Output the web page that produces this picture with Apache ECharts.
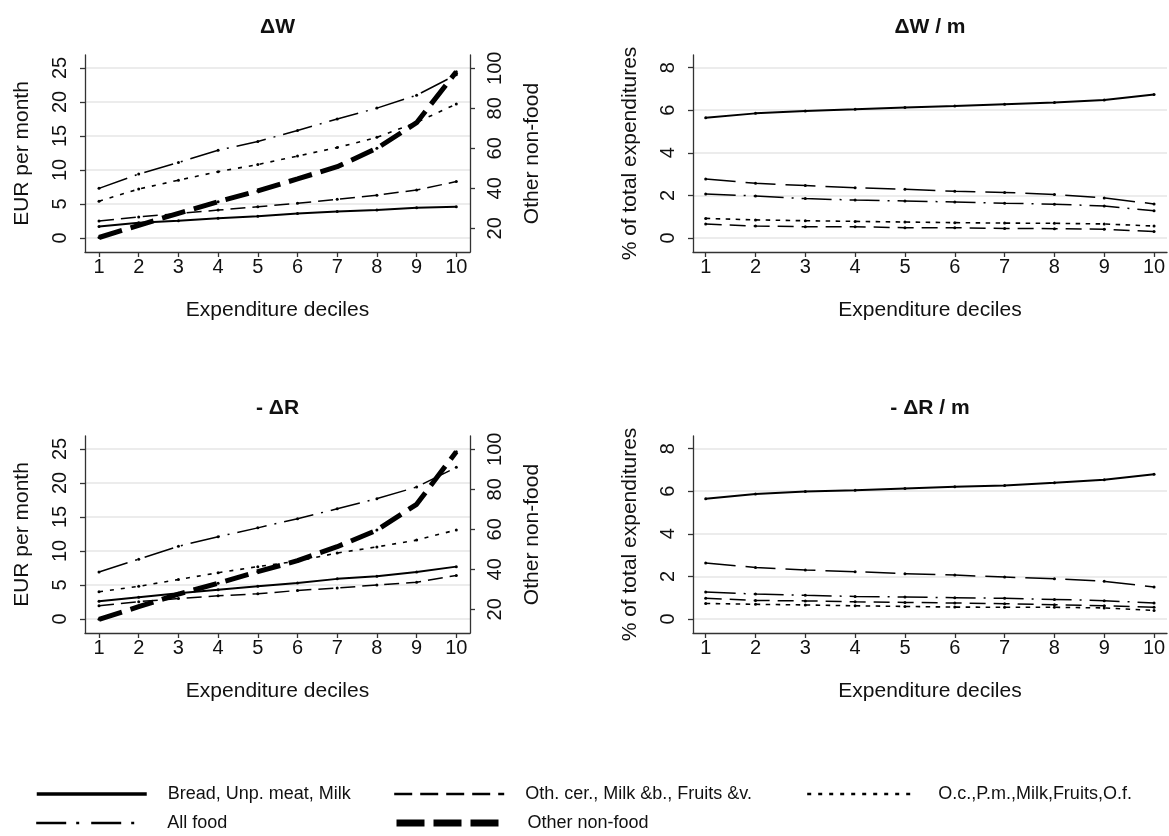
<!DOCTYPE html>
<html>
<head>
<meta charset="UTF-8">
<title>Welfare effects by expenditure decile</title>
<script src="https://cdn.jsdelivr.net/npm/echarts@6/dist/echarts.min.js"></script>
<style>
  html, body { margin: 0; padding: 0; background: #fff; }
  #chart { width: 1169px; height: 836px; }
</style>
</head>
<body>
<div id="chart"></div>
<script>
// deciles on the x axis
var deciles = [1, 2, 3, 4, 5, 6, 7, 8, 9, 10];
var eurTicks = [0, 5, 10, 15, 20, 25];
var nonFoodTicks = [20, 40, 60, 80, 100];
var shareTicks = [0, 2, 4, 6, 8];

// dW, EUR per month (non-food on the right axis)
var dwBread    = [1.7, 2.25, 2.55, 2.9, 3.2, 3.6, 3.9, 4.1, 4.45, 4.6];
var dwOthCer   = [2.5, 3.1, 3.6, 4.1, 4.6, 5.1, 5.7, 6.3, 7.05, 8.3];
var dwOc       = [5.4, 7.2, 8.5, 9.75, 10.8, 12.05, 13.3, 14.8, 17.0, 19.7];
var dwAllFood  = [7.3, 9.4, 11.1, 12.9, 14.2, 15.8, 17.5, 19.1, 21.0, 24.0];
var dwNonFood  = [15.4, 21.5, 27.5, 33.3, 38.7, 44.7, 50.8, 60.0, 72.8, 98.3];

// -dR, EUR per month
var drBread    = [2.6, 3.2, 3.8, 4.3, 4.8, 5.3, 5.9, 6.3, 6.9, 7.7];
var drOthCer   = [1.95, 2.55, 3.0, 3.4, 3.7, 4.2, 4.55, 5.0, 5.4, 6.4];
var drOc       = [4.0, 4.8, 5.8, 6.8, 7.7, 8.5, 9.7, 10.6, 11.6, 13.1];
var drAllFood  = [6.9, 8.8, 10.7, 12.1, 13.4, 14.75, 16.2, 17.7, 19.4, 22.3];
var drNonFood  = [15.0, 21.3, 27.6, 33.0, 38.8, 44.3, 51.3, 59.6, 72.5, 98.8];

// dW / m, % of total expenditures
var dwmNonFood = [5.65, 5.85, 5.96, 6.04, 6.13, 6.2, 6.28, 6.36, 6.48, 6.74];
var dwmAllFood = [2.77, 2.57, 2.46, 2.36, 2.29, 2.19, 2.14, 2.04, 1.88, 1.6];
var dwmOc      = [2.07, 1.97, 1.85, 1.78, 1.74, 1.69, 1.63, 1.59, 1.5, 1.28];
var dwmOthCer  = [0.92, 0.85, 0.81, 0.78, 0.75, 0.72, 0.7, 0.69, 0.66, 0.56];
var dwmBread   = [0.66, 0.56, 0.53, 0.53, 0.48, 0.48, 0.45, 0.44, 0.41, 0.3];

// -dR / m, % of total expenditures
var drmNonFood = [5.65, 5.87, 5.98, 6.04, 6.13, 6.21, 6.27, 6.39, 6.54, 6.8];
var drmAllFood = [2.63, 2.42, 2.3, 2.22, 2.13, 2.06, 1.97, 1.89, 1.77, 1.5];
var drmOc      = [1.27, 1.17, 1.11, 1.06, 1.03, 1.0, 0.97, 0.92, 0.86, 0.75];
var drmBread   = [0.97, 0.87, 0.85, 0.81, 0.78, 0.75, 0.72, 0.67, 0.62, 0.55];
var drmOthCer  = [0.73, 0.69, 0.66, 0.62, 0.59, 0.56, 0.55, 0.55, 0.52, 0.4];

var N_BREAD = 'Bread, Unp. meat, Milk',
    N_OTHCER = 'Oth. cer., Milk &b., Fruits &v.',
    N_OC = 'O.c.,P.m.,Milk,Fruits,O.f.',
    N_ALL = 'All food',
    N_NONFOOD = 'Other non-food';

var FONT = '"Liberation Sans", Arial, Helvetica, sans-serif';
var INK = '#111';
var AXIS = '#333';

// line patterns
var SOLID = 'solid', DASH = [15, 7], LONGDASH = [30, 10], MIDDASH = [16, 8],
    DOT = [4, 7], SHORTDOT = [4.5, 5.5], DASHDOT = [30, 8, 2, 8], THICKDASH = [24, 9];

function pairs(vals) {
  return deciles.map(function (d, i) { return [d, vals[i]]; });
}

function line(name, vals, xi, yi, dash, width) {
  return {
    name: name,
    type: 'line',
    xAxisIndex: xi,
    yAxisIndex: yi,
    data: pairs(vals),
    symbol: 'circle',
    symbolSize: 3,
    itemStyle: { color: '#000' },
    lineStyle: { color: '#000', width: width, type: dash, cap: 'butt' },
    silent: true,
    animation: false,
    z: width > 3 ? 3 : 2
  };
}

function xAxis(grid, min, max) {
  return {
    type: 'value', gridIndex: grid, min: min, max: max,
    name: 'Expenditure deciles', nameLocation: 'middle', nameGap: 48,
    nameTextStyle: { fontFamily: FONT, fontSize: 21, color: INK },
    axisLine: { show: true, onZero: false, lineStyle: { color: AXIS, width: 1.3 } },
    axisTick: { show: true, length: 5, customValues: deciles, lineStyle: { color: AXIS, width: 1.3 } },
    axisLabel: { customValues: deciles, margin: 5, fontFamily: FONT, fontSize: 20, color: INK },
    splitLine: { show: false }
  };
}

function yAxis(grid, min, max, ticks, name, pos, gridLines) {
  return {
    type: 'value', gridIndex: grid, min: min, max: max, position: pos,
    name: name, nameLocation: 'middle', nameGap: 52, nameRotate: 90,
    nameTextStyle: { fontFamily: FONT, fontSize: 21, color: INK },
    axisLine: { show: true, onZero: false, lineStyle: { color: AXIS, width: 1.3 } },
    axisTick: { show: true, length: 5, customValues: ticks, lineStyle: { color: AXIS, width: 1.3 } },
    axisLabel: { customValues: ticks, rotate: 90, margin: 15, fontFamily: FONT, fontSize: 20, color: INK },
    splitLine: { show: gridLines, lineStyle: { color: '#e6e6e6', width: 1.6 } }
  };
}

function legendItem(name, left, top, lineStyle) {
  return {
    data: [{ name: name, lineStyle: lineStyle, itemStyle: { opacity: 0 } }],
    left: left, top: top, padding: 0,
    itemWidth: 110, itemHeight: 8,
    selectedMode: false,
    textStyle: { fontFamily: FONT, fontSize: 18, color: INK, padding: [0, 0, 0, 16] }
  };
}

function panelTitle(text, x, y) {
  return {
    type: 'text', x: x, y: y,
    style: { text: text, fill: INK, font: 'bold 21px ' + FONT, textAlign: 'center', textVerticalAlign: 'middle' }
  };
}

var chart = echarts.init(document.getElementById('chart'));
chart.setOption({
  backgroundColor: '#fff',
  animation: false,
  graphic: [
    panelTitle('\u0394W', 277.5, 27),
    panelTitle('\u0394W / m', 930, 27),
    panelTitle('- \u0394R', 277.5, 408),
    panelTitle('- \u0394R / m', 930, 408)
  ],
  grid: [
    { left: 85, top: 55, width: 385, height: 197, outerBoundsMode: 'none' },
    { left: 693, top: 55, width: 474, height: 197, outerBoundsMode: 'none' },
    { left: 85, top: 436, width: 385, height: 197, outerBoundsMode: 'none' },
    { left: 693, top: 436, width: 474, height: 197, outerBoundsMode: 'none' }
  ],
  xAxis: [
    xAxis(0, 0.647, 10.345),
    xAxis(1, 0.745, 10.26),
    xAxis(2, 0.647, 10.345),
    xAxis(3, 0.745, 10.26)
  ],
  yAxis: [
    yAxis(0, -2.06, 26.91, eurTicks, 'EUR per month', 'left', true),
    yAxis(0, 8.15, 106.65, nonFoodTicks, 'Other non-food', 'right', false),
    yAxis(1, -0.657, 8.59, shareTicks, '% of total expenditures', 'left', true),
    yAxis(2, -2.06, 26.91, eurTicks, 'EUR per month', 'left', true),
    yAxis(2, 8.15, 106.65, nonFoodTicks, 'Other non-food', 'right', false),
    yAxis(3, -0.657, 8.59, shareTicks, '% of total expenditures', 'left', true)
  ],
  legend: [
    legendItem(N_BREAD, 35, 785, { width: 3.5, type: 'solid' }),
    legendItem(N_OTHCER, 393, 785, { width: 2.4, type: [18, 8] }),
    legendItem(N_OC, 806, 785, { width: 2.4, type: [4, 7] }),
    legendItem(N_ALL, 35, 814, { width: 2.4, type: [30, 10, 3, 12] }),
    legendItem(N_NONFOOD, 393, 814, { width: 7, type: [28, 9] })
  ],
  series: [
    // dW
    line(N_BREAD, dwBread, 0, 0, SOLID, 2),
    line(N_OTHCER, dwOthCer, 0, 0, DASH, 1.5),
    line(N_OC, dwOc, 0, 0, DOT, 1.6),
    line(N_ALL, dwAllFood, 0, 0, DASHDOT, 1.5),
    line(N_NONFOOD, dwNonFood, 0, 1, THICKDASH, 5),
    // dW / m
    line(N_NONFOOD, dwmNonFood, 1, 2, SOLID, 2),
    line(N_ALL, dwmAllFood, 1, 2, LONGDASH, 1.5),
    line(N_OC, dwmOc, 1, 2, DASHDOT, 1.5),
    line(N_OTHCER, dwmOthCer, 1, 2, SHORTDOT, 1.6),
    line(N_BREAD, dwmBread, 1, 2, MIDDASH, 1.5),
    // -dR
    line(N_BREAD, drBread, 2, 3, SOLID, 2),
    line(N_OTHCER, drOthCer, 2, 3, DASH, 1.5),
    line(N_OC, drOc, 2, 3, DOT, 1.6),
    line(N_ALL, drAllFood, 2, 3, DASHDOT, 1.5),
    line(N_NONFOOD, drNonFood, 2, 4, THICKDASH, 5),
    // -dR / m
    line(N_NONFOOD, drmNonFood, 3, 5, SOLID, 2),
    line(N_ALL, drmAllFood, 3, 5, LONGDASH, 1.5),
    line(N_OC, drmOc, 3, 5, DASHDOT, 1.5),
    line(N_BREAD, drmBread, 3, 5, MIDDASH, 1.5),
    line(N_OTHCER, drmOthCer, 3, 5, SHORTDOT, 1.6)
  ]
});
</script>
</body>
</html>
